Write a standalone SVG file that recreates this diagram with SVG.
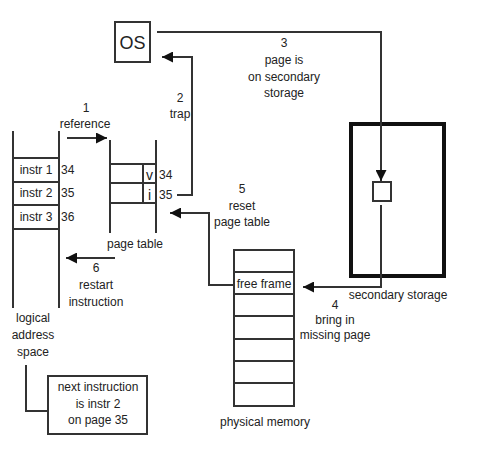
<svg xmlns="http://www.w3.org/2000/svg" width="480" height="451" viewBox="0 0 480 451">
<defs>
<marker id="ah" markerUnits="userSpaceOnUse" markerWidth="11" markerHeight="11" refX="11" refY="5.5" orient="auto"><path d="M0,0 L11,5.5 L0,11 z" fill="#111"/></marker>
<style>
text{font-family:"Liberation Sans",Arial,sans-serif;font-size:12px;fill:#222;text-anchor:middle}
.ln{stroke:#333;stroke-width:2;fill:none}
.bx{stroke:#333;stroke-width:2;fill:#fff}
.st{text-anchor:start}
</style>
</defs>
<rect width="480" height="451" fill="#fff"/>
<g id="os"><rect class="bx" x="115" y="22" width="35" height="40"/><text x="132.5" y="49" style="font-size:18px">OS</text></g>
<g id="secondary-storage"><rect x="351" y="124" width="93" height="152" fill="none" stroke="#111" stroke-width="4"/><rect class="bx" x="373" y="182" width="18" height="19"/><text x="398" y="299">secondary storage</text></g>
<g id="logical-address-space">
<path class="ln" d="M13,131V308M59,131V308M13,158H59M13,182H59M13,205H59M13,229H59"/>
<text x="36" y="174">instr 1</text><text x="36" y="197">instr 2</text><text x="36" y="221">instr 3</text>
<text class="st" x="61" y="174">34</text><text class="st" x="61" y="197">35</text><text class="st" x="61" y="221">36</text>
<text x="33" y="322">logical</text><text x="33" y="339">address</text><text x="33" y="356">space</text>
</g>
<g id="page-table">
<path class="ln" d="M110,140V233M156,140V233M110,164H156M110,183H156M110,203H156M143,164V203"/>
<text x="149.5" y="180" style="font-size:14px">v</text><text x="149.5" y="200" style="font-size:14px">i</text>
<text class="st" x="159" y="179">34</text><text class="st" x="159" y="199">35</text>
<text x="135" y="248">page table</text>
</g>
<g id="physical-memory">
<path class="bx" d="M234,250H294V406H234Z"/>
<path class="ln" d="M234,272H294M234,294H294M234,316H294M234,339H294M234,361H294M234,383H294"/>
<text x="264" y="288">free frame</text>
<text x="265" y="426">physical memory</text>
</g>
<g id="note"><rect class="bx" x="48" y="376" width="99" height="58"/><text x="98" y="391">next instruction</text><text x="98" y="408">is instr 2</text><text x="98" y="424">on page 35</text></g>
<g id="connectors">
<line class="ln" x1="67" y1="138" x2="107" y2="138" marker-end="url(#ah)"/>
<polyline class="ln" points="177,195 192,195 192,57 162,57" marker-end="url(#ah)"/>
<polyline class="ln" points="157,32 381,32 381,181" marker-end="url(#ah)"/>
<polyline class="ln" points="381,205 381,287 303,287" marker-end="url(#ah)"/>
<polyline class="ln" points="234,285 209,285 209,213 170,213" marker-end="url(#ah)"/>
<line class="ln" x1="115" y1="258" x2="66" y2="258" marker-end="url(#ah)"/>
<polyline class="ln" points="26,365 26,411 48,411"/>
</g>
<g id="labels">
<text x="86" y="112">1</text><text x="85" y="128">reference</text>
<text x="180" y="102">2</text><text x="180" y="118">trap</text>
<text x="284" y="47">3</text><text x="284" y="64">page is</text><text x="284" y="81">on secondary</text><text x="284" y="97">storage</text>
<text x="335" y="309">4</text><text x="335" y="324">bring in</text><text x="335" y="339">missing page</text>
<text x="242" y="193">5</text><text x="242" y="210">reset</text><text x="242" y="226">page table</text>
<text x="96" y="272">6</text><text x="96" y="289">restart</text><text x="96" y="306">instruction</text>
</g>
</svg>
